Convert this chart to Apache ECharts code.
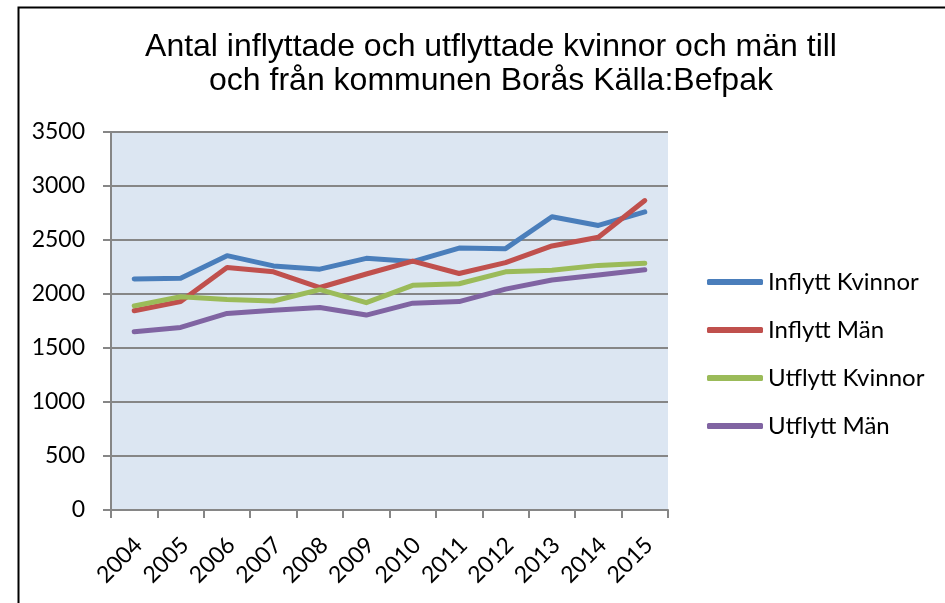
<!DOCTYPE html>
<html>
<head>
<meta charset="utf-8">
<script src="https://cdn.jsdelivr.net/npm/echarts@6/dist/echarts.min.js"></script>
<style>
	html, body { margin: 0; padding: 0; background: #fff; }
	#chart { width: 945px; height: 603px; }
</style>
</head>
<body>
<div id="chart"></div>
<script>
	var years = ['2004', '2005', '2006', '2007', '2008', '2009', '2010', '2011', '2012', '2013', '2014', '2015'];
	var inflyttKvinnor = [2140, 2145, 2355, 2260, 2230, 2330, 2300, 2425, 2420, 2715, 2635, 2760];
	var inflyttMan = [1845, 1930, 2245, 2205, 2060, 2185, 2305, 2190, 2290, 2445, 2525, 2865];
	var utflyttKvinnor = [1890, 1975, 1950, 1935, 2040, 1920, 2080, 2095, 2205, 2220, 2265, 2285];
	var utflyttMan = [1650, 1690, 1820, 1850, 1875, 1805, 1915, 1930, 2045, 2130, 2175, 2225];
	var seriesNames = ['Inflytt Kvinnor', 'Inflytt Män', 'Utflytt Kvinnor', 'Utflytt Män'];
	var colors = ['#4a7ebb', '#c0504d', '#9bbb59', '#8064a2'];

	var chart = echarts.init(document.getElementById('chart'));
	var values = [inflyttKvinnor, inflyttMan, utflyttKvinnor, utflyttMan];
	var series = [];
	for (var i = 0; i < values.length; i++) {
		series.push({
			name: seriesNames[i],
			type: 'line',
			data: values[i],
			symbol: 'none',
			lineStyle: { width: 5, cap: 'round', join: 'round' }
		});
	}

	chart.setOption({
		animation: false,
		color: colors,
		graphic: [{
			type: 'rect',
			left: 16, top: 5,
			shape: { width: 1000, height: 1000 },
			style: { fill: 'none', stroke: '#000', lineWidth: 2 },
			z: -10
		}],
		title: {
			text: 'Antal inflyttade och utflyttade kvinnor och män till\noch från kommunen Borås Källa:Befpak',
			left: 486,
			top: 25,
			textAlign: 'center',
			textStyle: {
				fontFamily: 'Liberation Sans',
				fontWeight: 'normal',
				fontSize: 32,
				lineHeight: 34,
				color: '#000'
			}
		},
		legend: {
			orient: 'vertical',
			left: 702,
			top: 263,
			icon: 'roundRect',
			itemWidth: 56,
			itemHeight: 6,
			itemGap: 20,
			data: seriesNames,
			textStyle: { fontFamily: 'Lato', fontSize: 24, color: '#000', lineHeight: 28 }
		},
		grid: {
			left: 111,
			right: 277,
			top: 132,
			bottom: 93,
			show: true,
			backgroundColor: '#dce6f2',
			borderWidth: 0
		},
		xAxis: {
			type: 'category',
			data: years,
			boundaryGap: true,
			axisLine: { lineStyle: { color: '#868686', width: 2 } },
			axisTick: { show: true, length: 8, inside: false, lineStyle: { color: '#868686', width: 2 } },
			axisLabel: {
				rotate: 45,
				margin: 27,
				verticalAlign: 'top',
				lineHeight: 12,
				fontFamily: 'Lato',
				fontSize: 23,
				color: '#000'
			}
		},
		yAxis: {
			type: 'value',
			min: 0,
			max: 3500,
			interval: 500,
			axisLine: { show: true, lineStyle: { color: '#868686', width: 2 } },
			axisTick: { show: true, length: 8, lineStyle: { color: '#868686', width: 2 } },
			splitLine: { lineStyle: { color: '#868686', width: 2 } },
			axisLabel: {
				margin: 26,
				fontFamily: 'Lato',
				fontSize: 23,
				color: '#000',
				formatter: function (v) { return String(v); }
			}
		},
		series: series
	});
</script>
</body>
</html>
